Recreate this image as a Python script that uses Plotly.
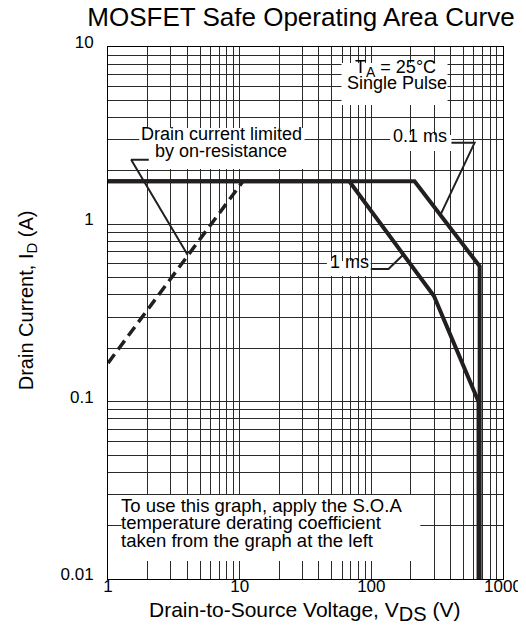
import plotly.graph_objects as go

# ---------------- data ----------------
rds_vds = [1, 10.6]
rds_id = [0.165, 1.75]

pulse_01ms_vds = [1, 213, 665, 665]
pulse_01ms_id = [1.75, 1.75, 0.58, 0.01]

pulse_1ms_vds = [1, 68, 299, 652, 652]
pulse_1ms_id = [1.75, 1.75, 0.394, 0.1, 0.01]

x_ticks = [1, 10, 100, 1000]
x_tick_labels = ["1", "10", "100", "1000"]
y_ticks = [0.01, 0.1, 1, 10]
y_tick_labels = ["0.01", "0.1", "1", "10"]
x_minor = [m * 10 ** k for k in range(0, 3) for m in range(2, 10)]
y_minor = [m * 10.0 ** k for k in range(-2, 1) for m in range(2, 10)]

# ---------------- layout helpers ----------------
W, H = 526, 628
L, R, T, B = 100, 506, 39, 571
FONT = "Arial, Liberation Sans, Helvetica, sans-serif"
INK = "#231f20"
GRID = "#2a2a2a"
YOFF = 7  # annotation middle-anchor offset correction


def px(x):
    return (x - L) / (R - L)


def py(y):
    return (B - y) / (B - T)


def dx(p):
    return 10 ** (3 * (p - L) / (R - L))


def dy(p):
    return 10 ** (1 - 3 * (p - T) / (B - T))


fig = go.Figure()

# curves
fig.add_trace(go.Scatter(x=rds_vds, y=rds_id, mode="lines",
                         line=dict(color=INK, width=3.5, dash="11px,6px"),
                         hoverinfo="skip", showlegend=False))
fig.add_trace(go.Scatter(x=pulse_1ms_vds, y=pulse_1ms_id, mode="lines",
                         line=dict(color=INK, width=4),
                         hoverinfo="skip", showlegend=False))
fig.add_trace(go.Scatter(x=pulse_01ms_vds, y=pulse_01ms_id, mode="lines",
                         line=dict(color=INK, width=4),
                         hoverinfo="skip", showlegend=False))

# leader lines (annotation pointers)
leaders = [
    ([2.04, 1.50, 4.02], [2.31, 2.31, 0.674]),
    ([406, 608, 335], [2.88, 2.88, 1.13]),
    ([99, 135, 174.6], [0.56, 0.56, 0.674]),
]
for lx, ly in leaders:
    fig.add_trace(go.Scatter(x=lx, y=ly, mode="lines",
                             line=dict(color=INK, width=2),
                             hoverinfo="skip", showlegend=False))

# white label boxes (between grid and traces)
boxes = [
    (132, 120, 302, 161),
    (390, 127, 453, 143),
    (325, 253, 370, 268),
    (340, 55, 449, 97),
    (114, 487, 421, 553),
]
for x0, y0, x1, y1 in boxes:
    fig.add_shape(type="rect", xref="x", yref="y",
                  x0=dx(x0), x1=dx(x1), y0=dy(y1), y1=dy(y0),
                  fillcolor="white", line=dict(width=0), layer="between")

# text labels
labels = [
    ("Drain current limited", 216.5, 133, "center", 18),
    ("by on-resistance", 216, 150, "center", 18),
    ("0.1 ms", 421, 135, "center", 18),
    ("1 ms", 348.5, 261, "center", 18),
    ("Single Pulse", 396.7, 82, "center", 18),
    ("To use this graph, apply the S.O.A", 111, 504, "left", 18.5),
    ("temperature derating coefficient", 111, 521, "left", 18.5),
    ("taken from the graph at the left", 111, 539, "left", 18.5),
]
for txt, x, y, anchor, size in labels:
    fig.add_annotation(text=txt, xref="paper", yref="paper", x=px(x), y=py(y - YOFF),
                       xanchor=anchor, yanchor="middle", showarrow=False,
                       font=dict(family=FONT, size=size, color="black"))
fig.add_annotation(text="T<sub><span style='font-size:14px'>A</span></sub> = 25°C",
                   xref="paper", yref="paper", x=px(396), y=py(65 - 5),
                   xanchor="center", yanchor="middle", showarrow=False,
                   font=dict(family=FONT, size=18, color="black"))

# axis titles
fig.add_annotation(text="Drain Current, I<sub><span style='font-size:15px'>D</span></sub> (A)",
                   xref="paper", yref="paper",
                   x=px(17), y=py(292), textangle=-90, xanchor="center", yanchor="middle",
                   showarrow=False, font=dict(family=FONT, size=20, color="black"))
fig.add_annotation(text="Drain-to-Source Voltage, V<sub><span style='font-size:20px'>DS</span></sub> (V)",
                   xref="paper", yref="paper",
                   x=px(301.5), y=py(603), xanchor="center", yanchor="middle",
                   showarrow=False, font=dict(family=FONT, size=21, color="black"))

fig.update_layout(
    width=W, height=H,
    margin=dict(l=L, r=W - R, t=T, b=H - B, pad=0),
    paper_bgcolor="white", plot_bgcolor="white",
    title=dict(text="MOSFET Safe Operating Area Curve", x=293 / W, xanchor="center",
               y=1, yanchor="top", xref="container", yref="container",
               pad=dict(t=0, b=0, l=0, r=0),
               font=dict(family=FONT, size=26, color="black")),
    font=dict(family=FONT, color="black"),
)
fig.update_xaxes(type="log", range=[0, 3], tickvals=x_ticks, ticktext=x_tick_labels,
                 tickfont=dict(family=FONT, size=17, color="black"), ticks="",
                 ticklabelstandoff=-8,
                 showgrid=True, gridcolor=GRID, gridwidth=1,
                 minor=dict(tickvals=x_minor, showgrid=True, gridcolor=GRID, gridwidth=1, ticks=""),
                 showline=True, linecolor="black", linewidth=1, mirror=True, zeroline=False)
fig.update_yaxes(type="log", range=[-2, 1], tickvals=y_ticks, ticktext=y_tick_labels,
                 tickfont=dict(family=FONT, size=17, color="black"), ticks="",
                 ticklabelstandoff=10, ticklabelshift=-5,
                 showgrid=True, gridcolor=GRID, gridwidth=1,
                 minor=dict(tickvals=y_minor, showgrid=True, gridcolor=GRID, gridwidth=1, ticks=""),
                 showline=True, linecolor="black", linewidth=1, mirror=True, zeroline=False)

fig.write_html("out.html")
